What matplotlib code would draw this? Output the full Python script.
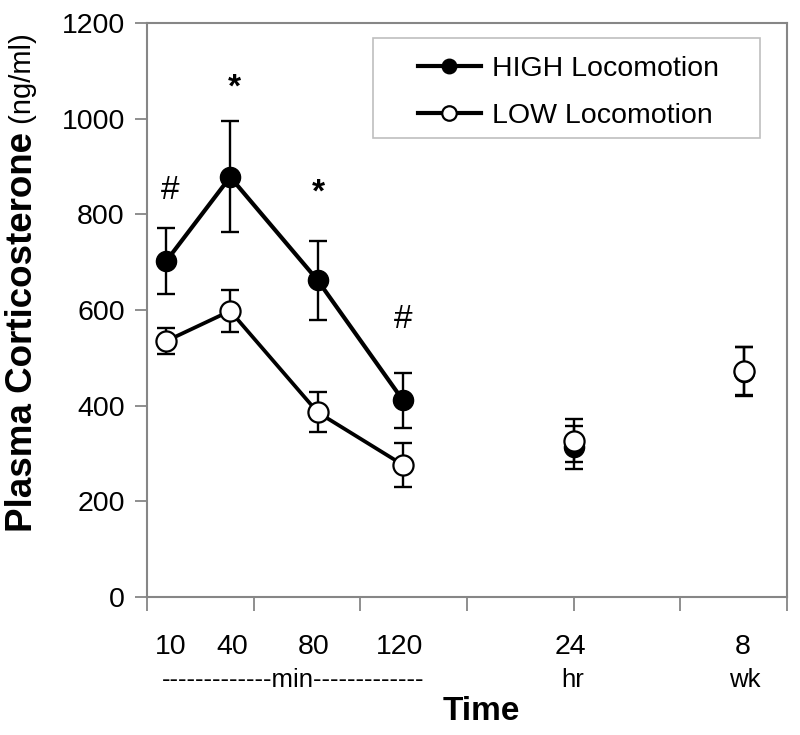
import matplotlib
matplotlib.use("Agg")
import matplotlib.pyplot as plt
from matplotlib.transforms import blended_transform_factory
from matplotlib.patches import Rectangle

plt.rcParams['font.family'] = ['Liberation Sans', 'DejaVu Sans']

# ---- data ----
x_pos = [0.18, 0.78, 1.6, 2.4, 4.0, 5.6]
tick_text = ["10", "40", "80", "120", "24", "8"]
tick_text_x = [0.22, 0.80, 1.56, 2.37, 3.97, 5.58]
unit_text = ["hr", "wk"]
unit_text_x = [3.99, 5.60]
min_text = "-------------min-------------"
min_text_x = 1.37

high_mean = [702, 878, 662, 411, 313, 471]
high_err = [69, 116, 82, 58, 45, 51]
low_mean = [535, 598, 386, 276, 327, 473]
low_err = [28, 44, 42, 46, 45, 50]
n_connected = 4

annot_text = ["#", "*", "*", "#"]
annot_x = [0.22, 0.82, 1.61, 2.40]
annot_y = [832, 1046, 826, 562]   # baseline positions

fig = plt.figure(figsize=(8, 7.35), dpi=100)
ax = fig.add_axes([0.18375, 0.1878, 0.80, 0.781])

grey = "#868686"
lw_main = 3.0
ms = 14.5

# HIGH
ax.errorbar(x_pos, high_mean, yerr=high_err, fmt='none', ecolor='black',
            elinewidth=1.7, capsize=6.5, capthick=1.7, zorder=2)
ax.plot(x_pos[:n_connected], high_mean[:n_connected], '-', color='black', lw=lw_main, zorder=3)
ax.plot(x_pos, high_mean, 'o', color='black', ms=ms, mfc='black', mec='black', zorder=4)
# LOW
ax.errorbar(x_pos, low_mean, yerr=low_err, fmt='none', ecolor='black',
            elinewidth=1.7, capsize=6.5, capthick=1.7, zorder=5)
ax.plot(x_pos[:n_connected], low_mean[:n_connected], '-', color='black', lw=lw_main - 0.3, zorder=6)
ax.plot(x_pos, low_mean, 'o', color='black', ms=ms, mfc='white', mec='black', mew=1.6, zorder=7)

# legend box
ax.add_patch(Rectangle((0.353, 0.800), 0.605, 0.174, transform=ax.transAxes,
                       facecolor='white', edgecolor='#bfbfbf', lw=1.2, zorder=8))
h1, = ax.plot([], [], '-o', color='black', lw=lw_main, ms=ms, mfc='black', mec='black')
h2, = ax.plot([], [], '-o', color='black', lw=lw_main, ms=ms, mfc='white', mec='black', mew=1.6)
leg = ax.legend([h1, h2], ["HIGH Locomotion", "LOW Locomotion"], loc='upper left',
                bbox_to_anchor=(0.4234, 0.942), fontsize=20.5, markerscale=0.72,
                handlelength=2.2, handletextpad=0.4, borderpad=0, labelspacing=0.72,
                borderaxespad=0, frameon=False)
leg.set_zorder(9)

# annotations
for t, xx, yy in zip(annot_text, annot_x, annot_y):
    ax.text(xx, yy, t, ha='center', va='baseline', fontsize=24,
            fontweight='bold' if t == '*' else 'normal')

ax.set_xlim(0, 6)
ax.set_ylim(0, 1200)
ax.set_yticks(range(0, 1201, 200))
ax.set_xticks(range(0, 7))
ax.set_xticklabels([])
ax.tick_params(axis='y', labelsize=20.5, length=9, width=1.3, color=grey, pad=7, direction='out')
ax.tick_params(axis='x', length=10, width=1.3, color=grey, direction='out')
for s in ax.spines.values():
    s.set_color(grey)
    s.set_linewidth(1.5)

trans = blended_transform_factory(ax.transData, ax.transAxes)
for t, xx in zip(tick_text, tick_text_x):
    ax.text(xx, -0.087, t, transform=trans, ha='center', va='center', fontsize=20.5)
for t, xx in zip(unit_text, unit_text_x):
    ax.text(xx, -0.145, t, transform=trans, ha='center', va='center', fontsize=18.5)
ax.text(min_text_x, -0.145, min_text, transform=trans, ha='center', va='center', fontsize=18.5)

fig.text(481 / 800, 1 - 712 / 735, "Time", ha='center', va='center', fontsize=24, fontweight='bold')

t1 = fig.text(23 / 800, 1 - 532 / 735, "Plasma Corticosterone", rotation=90,
              ha='center', va='bottom', fontsize=26.5, fontweight='bold')
fig.canvas.draw()
ax.annotate(" (ng/ml)", xy=(0.5, 1.0), xycoords=t1, rotation=90, ha='center', va='bottom',
            fontsize=21, annotation_clip=False)

fig.savefig("out.png", dpi=100)
